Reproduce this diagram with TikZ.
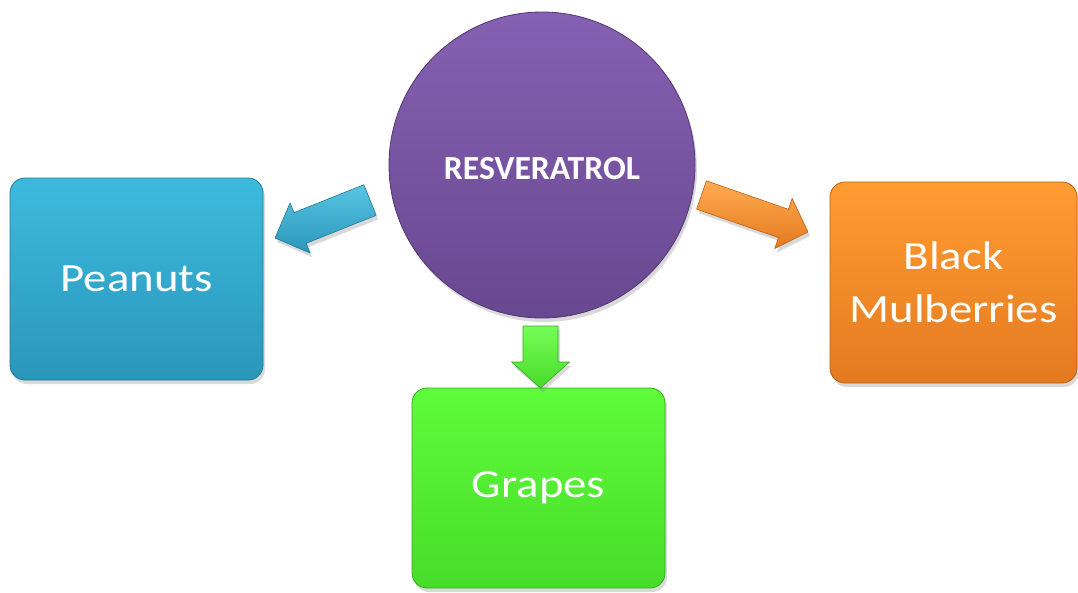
\documentclass[tikz,border=0pt]{standalone}
\usepackage{fontspec}
\setmainfont{Carlito}
\newfontfamily\boxfont{Carlito}[FakeStretch=1.17]
\usetikzlibrary{calc,shadows}
\newcommand\fatarrow[6]{%
  \path ($(#2)!#5!(#1)$) coordinate (fa-m);
  \draw[#6] ($(#1)!#3!90:(#2)$) -- ($(fa-m)!#3!90:(#2)$) -- ($(fa-m)!#4!90:(#2)$)
    -- (#2) -- ($(fa-m)!#4!-90:(#2)$) -- ($(fa-m)!#3!-90:(#2)$) -- ($(#1)!#3!-90:(#2)$) -- cycle;}
\tikzset{
  shad/.style={drop shadow={opacity=0.3,shadow xshift=2pt,shadow yshift=-4pt}},
  boxnode/.style={rectangle,rounded corners=15pt,line width=0.8pt,shad,text=white,align=center,
    font=\boxfont\fontsize{40}{53}\selectfont},
  fatarr/.style={line width=0.6pt,shad,line join=round}
}
\definecolor{pbtop}{RGB}{60,187,222}
\definecolor{pbbot}{RGB}{42,150,186}
\definecolor{pbdr}{RGB}{35,120,150}
\definecolor{putop}{RGB}{134,96,178}
\definecolor{pubot}{RGB}{104,72,144}
\definecolor{pudr}{RGB}{80,55,115}
\definecolor{ortop}{RGB}{255,156,50}
\definecolor{orbot}{RGB}{228,122,32}
\definecolor{ordr}{RGB}{185,95,20}
\definecolor{grtop}{RGB}{94,252,58}
\definecolor{grbot}{RGB}{72,220,42}
\definecolor{grdr}{RGB}{50,170,30}
\begin{document}
\begin{tikzpicture}[x=1pt,y=-1pt]
\path[use as bounding box] (0,0) rectangle (1078,592);
% nodes
\node[boxnode,draw=pbdr,top color=pbtop,bottom color=pbbot,minimum width=253pt,minimum height=202pt]
  (pea) at (136.5,279) {Peanuts};
\node[boxnode,draw=ordr,top color=ortop,bottom color=orbot,minimum width=247pt,minimum height=201pt]
  (mul) at (953.5,282.5) {Black\\Mulberries};
\node[boxnode,draw=grdr,top color=grtop,bottom color=grbot,minimum width=253pt,minimum height=200pt]
  (gra) at (538.5,488) {Grapes};
\node[circle,minimum size=306pt,inner sep=0pt,draw=pudr,line width=0.8pt,top color=putop,bottom color=pubot,shad,
  label={[yshift=-4pt,text=white,font=\bfseries\fontsize{33.7}{40}\selectfont]center:RESVERATROL}]
  (res) at (542,165) {};
% arrow ends
\coordinate (bt) at (370,200); \coordinate (bh) at (275,238);
\coordinate (ot) at (701.5,195); \coordinate (oh) at (808,232);
\coordinate (gt) at (540.5,326); \coordinate (gh) at (540.5,388);
\fatarrow{bt}{bh}{16.5pt}{27pt}{27pt}{fatarr,draw=pbdr,top color=pbtop!85!white,bottom color=pbbot}
\fatarrow{ot}{oh}{15pt}{26.5pt}{26pt}{fatarr,draw=ordr,top color=ortop!85!white,bottom color=orbot}
\fatarrow{gt}{gh}{17.5pt}{29pt}{26pt}{fatarr,draw=grdr,top color=grtop!85!white,bottom color=grbot}
\end{tikzpicture}
\end{document}
